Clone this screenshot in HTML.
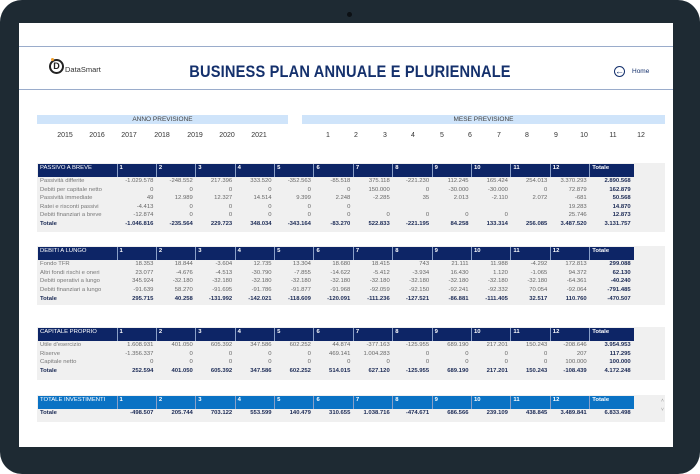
<!DOCTYPE html>
<html><head><meta charset="utf-8"><style>
*{margin:0;padding:0;box-sizing:border-box}
body{width:700px;height:474px;overflow:hidden;background:#fff;font-family:"Liberation Sans",sans-serif;position:relative}
.frame{position:absolute;left:0;top:0;width:700px;height:474px;background:#1e2a33;border-radius:22px}
.scr{position:absolute;left:19px;top:23px;width:654px;height:424px;background:#fff}
.cam{position:absolute;left:347px;top:12px;width:5px;height:5px;border-radius:50%;background:#0c1014}
.abs{position:absolute}
.line{position:absolute;left:19px;width:654px;height:1px;background:#9aaccb}
.title{position:absolute;left:0;width:700px;top:62px;text-align:center;font-weight:bold;color:#14306c;font-size:17px;transform:scaleX(.86);letter-spacing:.2px}
.band{position:absolute;top:115px;height:9px;background:#cfe4fa;color:#444;font-size:6.5px;text-align:center;line-height:9px}
.yr{position:absolute;top:132px;font-size:7px;color:#333;transform:translateX(-50%)}
.panel{position:absolute;left:37px;width:628px;background:#f0f0f0}
table{position:absolute;left:38px;border-collapse:collapse;table-layout:fixed;font-size:5.9px}
tr{height:8.6px}
td{white-space:nowrap;overflow:hidden;height:8.6px;line-height:8.6px;text-align:right;padding-right:3px;color:#666}
td:first-child{text-align:left;padding-left:2px;color:#777}
tr.h{height:13px}
tr.h td{background:#0d2566;color:#fff;height:13px;line-height:9px;vertical-align:top;text-align:left;padding-left:2px;border-left:1px solid #8aa0c8;font-weight:bold}
tr.h td:first-child{border-left:none;font-weight:normal}
tr.h.b td{background:#0a72c4}
tr.t{height:9px}
tr.t td{color:#1b2a55;font-weight:bold}
td:last-child{color:#1b2a55;font-weight:bold;border-right:0}
col.l{width:79px}col.c{width:39.4px}col.tt{width:44px}
</style></head><body>
<div class="frame"></div>
<div class="cam"></div>
<div class="scr"></div>
<div class="line" style="top:46px"></div>
<div class="line" style="top:89px"></div>
<div class="abs" style="left:49px;top:59px;width:15px;height:15px;border:2px solid #222;border-radius:50%;font-size:9px;font-weight:bold;text-align:center;line-height:11px;color:#222">D</div>
<div class="abs" style="left:51px;top:58px;width:3px;height:3px;background:#f0a030;border-radius:50%"></div>
<div class="abs" style="left:65px;top:65px;font-size:7.5px;color:#333">DataSmart</div>
<div class="title">BUSINESS PLAN ANNUALE E PLURIENNALE</div>
<div class="abs" style="left:614px;top:66px;width:11px;height:11px;border:1.5px solid #14306c;border-radius:50%;font-size:9px;line-height:8px;text-align:center;color:#14306c;font-weight:bold">←</div>
<div class="abs" style="left:632px;top:68px;font-size:6.5px;color:#14306c">Home</div>
<div class="band" style="left:37px;width:251px">ANNO PREVISIONE</div>
<div class="band" style="left:302px;width:363px">MESE PREVISIONE</div>
<div class="yr" style="left:65px">2015</div><div class="yr" style="left:97px">2016</div><div class="yr" style="left:129px">2017</div><div class="yr" style="left:162px">2018</div><div class="yr" style="left:195px">2019</div><div class="yr" style="left:227px">2020</div><div class="yr" style="left:259px">2021</div>
<div class="yr" style="left:328px">1</div><div class="yr" style="left:356px">2</div><div class="yr" style="left:385px">3</div><div class="yr" style="left:413px">4</div><div class="yr" style="left:442px">5</div><div class="yr" style="left:470px">6</div><div class="yr" style="left:499px">7</div><div class="yr" style="left:527px">8</div><div class="yr" style="left:556px">9</div><div class="yr" style="left:584px">10</div><div class="yr" style="left:613px">11</div><div class="yr" style="left:641px">12</div>

<div class="panel" style="top:163px;height:69px"></div>
<table style="top:164px"><colgroup><col class="l"><col class="c"><col class="c"><col class="c"><col class="c"><col class="c"><col class="c"><col class="c"><col class="c"><col class="c"><col class="c"><col class="c"><col class="c"><col class="tt"></colgroup>
<tr class="h"><td>PASSIVO A BREVE</td><td>1</td><td>2</td><td>3</td><td>4</td><td>5</td><td>6</td><td>7</td><td>8</td><td>9</td><td>10</td><td>11</td><td>12</td><td>Totale</td></tr>
<tr><td>Passività differite</td><td>-1.029.578</td><td>-248.552</td><td>217.396</td><td>333.520</td><td>-352.563</td><td>-85.518</td><td>375.118</td><td>-221.230</td><td>112.245</td><td>165.424</td><td>254.013</td><td>3.370.293</td><td>2.890.568</td></tr>
<tr><td>Debiti per capitale netto</td><td>0</td><td>0</td><td>0</td><td>0</td><td>0</td><td>0</td><td>150.000</td><td>0</td><td>-30.000</td><td>-30.000</td><td>0</td><td>72.879</td><td>162.879</td></tr>
<tr><td>Passività immediate</td><td>49</td><td>12.989</td><td>12.327</td><td>14.514</td><td>9.399</td><td>2.248</td><td>-2.285</td><td>35</td><td>2.013</td><td>-2.110</td><td>2.072</td><td>-681</td><td>50.568</td></tr>
<tr><td>Ratei e risconti passivi</td><td>-4.413</td><td>0</td><td>0</td><td>0</td><td>0</td><td>0</td><td></td><td></td><td></td><td></td><td></td><td>19.283</td><td>14.870</td></tr>
<tr><td>Debiti finanziari a breve</td><td>-12.874</td><td>0</td><td>0</td><td>0</td><td>0</td><td>0</td><td>0</td><td>0</td><td>0</td><td>0</td><td></td><td>25.746</td><td>12.873</td></tr>
<tr class="t"><td>Totale</td><td>-1.046.816</td><td>-235.564</td><td>229.723</td><td>348.034</td><td>-343.164</td><td>-83.270</td><td>522.833</td><td>-221.195</td><td>84.258</td><td>133.314</td><td>256.085</td><td>3.487.520</td><td>3.131.757</td></tr>
</table>

<div class="panel" style="top:246px;height:59px"></div>
<table style="top:247px"><colgroup><col class="l"><col class="c"><col class="c"><col class="c"><col class="c"><col class="c"><col class="c"><col class="c"><col class="c"><col class="c"><col class="c"><col class="c"><col class="c"><col class="tt"></colgroup>
<tr class="h"><td>DEBITI A LUNGO</td><td>1</td><td>2</td><td>3</td><td>4</td><td>5</td><td>6</td><td>7</td><td>8</td><td>9</td><td>10</td><td>11</td><td>12</td><td>Totale</td></tr>
<tr><td>Fondo TFR</td><td>18.353</td><td>18.844</td><td>-3.604</td><td>12.735</td><td>13.304</td><td>18.680</td><td>18.415</td><td>743</td><td>21.111</td><td>11.988</td><td>-4.292</td><td>172.813</td><td>299.088</td></tr>
<tr><td>Altri fondi rischi e oneri</td><td>23.077</td><td>-4.676</td><td>-4.513</td><td>-30.790</td><td>-7.855</td><td>-14.622</td><td>-5.412</td><td>-3.934</td><td>16.430</td><td>1.120</td><td>-1.065</td><td>94.372</td><td>62.130</td></tr>
<tr><td>Debiti operativi a lungo</td><td>345.924</td><td>-32.180</td><td>-32.180</td><td>-32.180</td><td>-32.180</td><td>-32.180</td><td>-32.180</td><td>-32.180</td><td>-32.180</td><td>-32.180</td><td>-32.180</td><td>-64.361</td><td>-40.240</td></tr>
<tr><td>Debiti finanziari a lungo</td><td>-91.639</td><td>58.270</td><td>-91.695</td><td>-91.786</td><td>-91.877</td><td>-91.968</td><td>-92.059</td><td>-92.150</td><td>-92.241</td><td>-92.332</td><td>70.054</td><td>-92.064</td><td>-791.485</td></tr>
<tr class="t"><td>Totale</td><td>295.715</td><td>40.258</td><td>-131.992</td><td>-142.021</td><td>-118.609</td><td>-120.091</td><td>-111.236</td><td>-127.521</td><td>-86.881</td><td>-111.405</td><td>32.517</td><td>110.760</td><td>-470.507</td></tr>
</table>

<div class="panel" style="top:327px;height:53px"></div>
<table style="top:328px"><colgroup><col class="l"><col class="c"><col class="c"><col class="c"><col class="c"><col class="c"><col class="c"><col class="c"><col class="c"><col class="c"><col class="c"><col class="c"><col class="c"><col class="tt"></colgroup>
<tr class="h"><td>CAPITALE PROPRIO</td><td>1</td><td>2</td><td>3</td><td>4</td><td>5</td><td>6</td><td>7</td><td>8</td><td>9</td><td>10</td><td>11</td><td>12</td><td>Totale</td></tr>
<tr><td>Utile d'esercizio</td><td>1.608.931</td><td>401.050</td><td>605.392</td><td>347.586</td><td>602.252</td><td>44.874</td><td>-377.163</td><td>-125.955</td><td>689.190</td><td>217.201</td><td>150.243</td><td>-208.646</td><td>3.954.953</td></tr>
<tr><td>Riserve</td><td>-1.356.337</td><td>0</td><td>0</td><td>0</td><td>0</td><td>469.141</td><td>1.004.283</td><td>0</td><td>0</td><td>0</td><td>0</td><td>207</td><td>117.295</td></tr>
<tr><td>Capitale netto</td><td>0</td><td>0</td><td>0</td><td>0</td><td>0</td><td>0</td><td>0</td><td>0</td><td>0</td><td>0</td><td>0</td><td>100.000</td><td>100.000</td></tr>
<tr class="t"><td>Totale</td><td>252.594</td><td>401.050</td><td>605.392</td><td>347.586</td><td>602.252</td><td>514.015</td><td>627.120</td><td>-125.955</td><td>689.190</td><td>217.201</td><td>150.243</td><td>-108.439</td><td>4.172.248</td></tr>
</table>

<div class="panel" style="top:395px;height:27px"></div>
<table style="top:396px"><colgroup><col class="l"><col class="c"><col class="c"><col class="c"><col class="c"><col class="c"><col class="c"><col class="c"><col class="c"><col class="c"><col class="c"><col class="c"><col class="c"><col class="tt"></colgroup>
<tr class="h b"><td>TOTALE INVESTIMENTI</td><td>1</td><td>2</td><td>3</td><td>4</td><td>5</td><td>6</td><td>7</td><td>8</td><td>9</td><td>10</td><td>11</td><td>12</td><td>Totale</td></tr>
<tr class="t"><td>Totale</td><td>-498.507</td><td>205.744</td><td>703.122</td><td>553.599</td><td>140.479</td><td>310.655</td><td>1.038.716</td><td>-474.671</td><td>686.566</td><td>239.109</td><td>438.845</td><td>3.489.841</td><td>6.833.498</td></tr>
</table>
<div class="abs" style="left:661px;top:398px;font-size:5px;color:#999">˄</div>
<div class="abs" style="left:661px;top:407px;font-size:5px;color:#999">˅</div>
</body></html>
